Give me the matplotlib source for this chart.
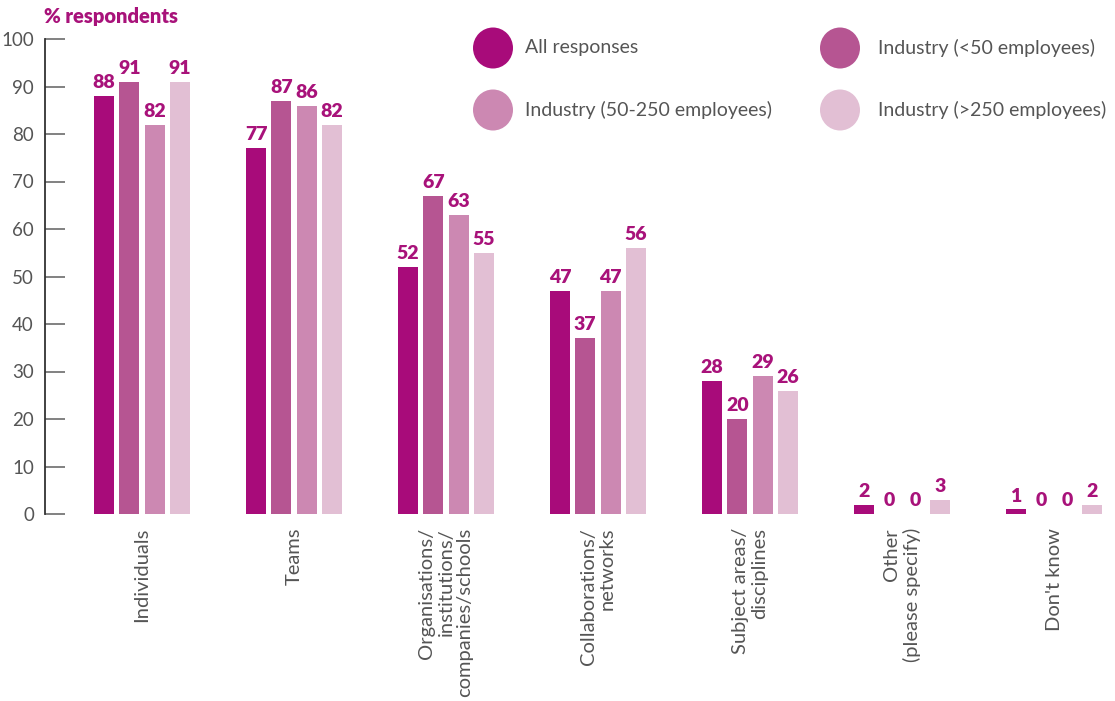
import matplotlib
matplotlib.use("Agg")
import matplotlib.pyplot as plt
from matplotlib.patches import Ellipse
import numpy as np

categories = ["Individuals", "Teams", "Organisations/\ninstitutions/\ncompanies/schools",
              "Collaborations/\nnetworks", "Subject areas/\ndisciplines",
              "Other\n(please specify)", "Don't know"]
series_names = ["All responses", "Industry (<50 employees)",
                "Industry (50-250 employees)", "Industry (>250 employees)"]
all_responses = [88, 77, 52, 47, 28, 2, 1]
industry_small = [91, 87, 67, 37, 20, 0, 0]
industry_medium = [82, 86, 63, 47, 29, 0, 0]
industry_large = [91, 82, 55, 56, 26, 3, 2]
series_values = [all_responses, industry_small, industry_medium, industry_large]
colors = ["#A80B7A", "#B65592", "#CC88B2", "#E2BFD4"]
yticks = [0, 10, 20, 30, 40, 50, 60, 70, 80, 90, 100]

plt.rcParams['font.family'] = ['Lato', 'DejaVu Sans']
label_color = "#A8127A"
text_gray = "#555555"

fig = plt.figure(figsize=(11.15, 7.01), dpi=100)
W, H = 1115, 701
ax = fig.add_axes([45 / W, 1 - 514 / H, 1065 / W, (514 - 39) / H])

x = np.arange(len(categories))
offsets = [-0.25, -0.084, 0.084, 0.25]
width = 0.132
for vals, off, col in zip(series_values, offsets, colors):
    ax.bar(x + off, vals, width=width, color=col)
    for xi, v in zip(x + off, vals):
        ax.text(xi, v + 1.0, str(v), ha='center', va='bottom', fontsize=14,
                fontweight='heavy', color=label_color)

ax.set_xlim(-(142 - 45) / 152, -(142 - 45) / 152 + 1065 / 152)
ax.set_ylim(0, 100)
ax.set_yticks(yticks)
ax.set_yticklabels([str(t) for t in yticks], fontsize=13.5, color=text_gray)
ax.tick_params(axis='y', direction='in', length=14.4, width=1.3, color='#777777', pad=8)
ax.set_xticks([])
for s in ['top', 'right', 'bottom']:
    ax.spines[s].set_visible(False)
ax.spines['left'].set_color('#333333')
ax.spines['left'].set_linewidth(1.3)

for xi, cat in zip(x, categories):
    ax.annotate(cat, xy=(xi, 0), xycoords='data', xytext=(0, -10), textcoords='offset points',
                rotation=90, ha='center', va='top', multialignment='right',
                fontsize=14.5, color=text_gray, linespacing=1.15)

fig.text(44 / W, 1 - 16 / H, "% respondents", ha='left', va='center', fontsize=14.5,
         fontweight='heavy', color=label_color)

# legend
leg_pos = [(493, 48, 525), (840, 48, 878), (493, 110, 525), (840, 110, 878)]
for (px, py, tx), name, col in zip(leg_pos, series_names, colors):
    e = Ellipse((px / W, 1 - py / H), 40 / W, 41 / H, transform=fig.transFigure,
                facecolor=col, edgecolor='none')
    fig.patches.append(e)
    fig.text(tx / W, 1 - py / H, name, ha='left', va='center', fontsize=14,
             color=text_gray)

fig.savefig("out.png", dpi=100)
